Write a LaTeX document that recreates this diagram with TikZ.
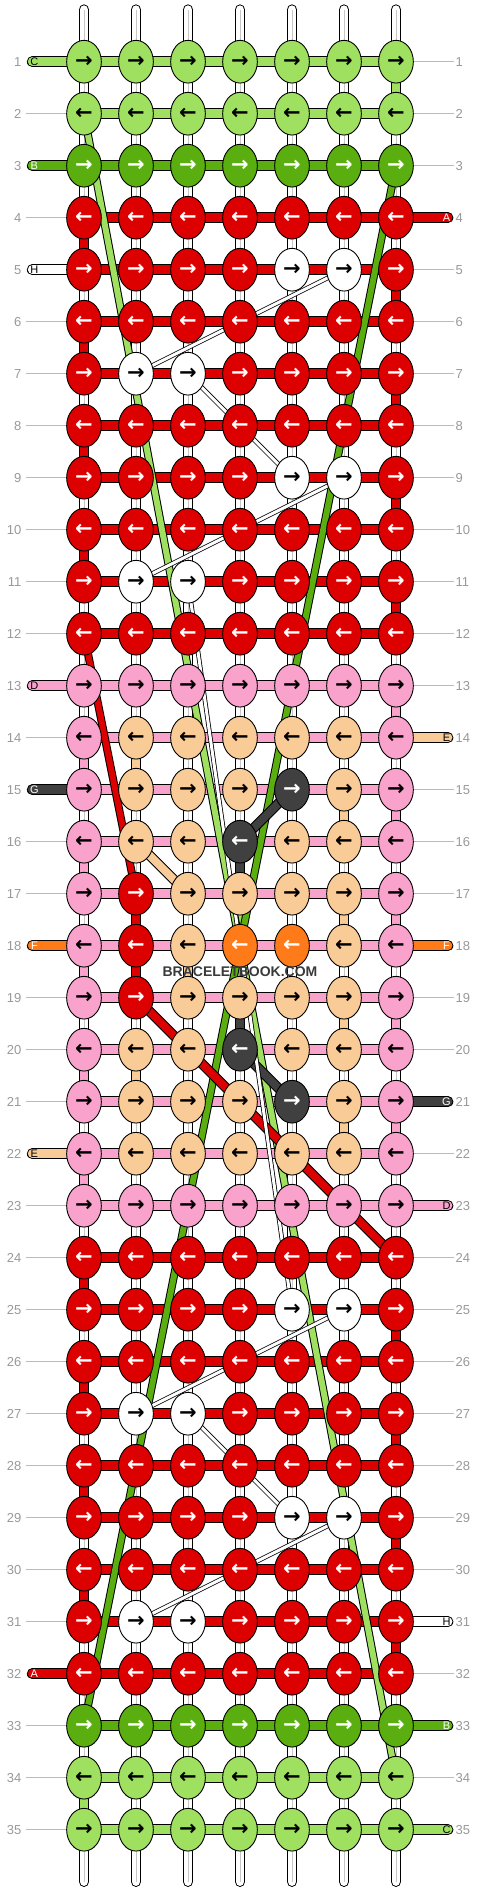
\documentclass[tikz,border=0pt]{standalone}
\usepackage{fontspec}
\setmainfont{Liberation Sans}
\newfontfamily\arrowfont{DejaVu Sans}
\usetikzlibrary{shapes.geometric}
\definecolor{cC}{HTML}{9FE060}
\definecolor{cB}{HTML}{5AAE10}
\definecolor{cA}{HTML}{DD0000}
\definecolor{cD}{HTML}{F9A2CC}
\definecolor{cE}{HTML}{F9CB97}
\definecolor{cF}{HTML}{FF7B1A}
\definecolor{cG}{HTML}{404040}
\definecolor{cH}{HTML}{FFFFFF}
\colorlet{tC}{black}\colorlet{tB}{white}\colorlet{tA}{white}\colorlet{tD}{black}
\colorlet{tE}{black}\colorlet{tF}{white}\colorlet{tG}{white}\colorlet{tH}{black}
\definecolor{lblgray}{HTML}{999999}
\definecolor{linegray}{HTML}{BBBBBB}
\definecolor{wm}{HTML}{3A3A3A}
\tikzset{
  knot/.style={ellipse, draw=black, line width=0.9pt, minimum width=34.7pt, minimum height=42.7pt, inner sep=0pt, font=\arrowfont\fontsize{21}{21}\selectfont\bfseries},
  rowlbl/.style={text=lblgray, font=\fontsize{13}{13}\selectfont, inner sep=0pt},
  extlbl/.style={font=\fontsize{11}{11}\selectfont, inner sep=0pt},
  lblline/.style={draw=linegray, line width=0.8pt},
  hb/.style={draw=#1, line width=8.7pt, preaction={draw=black, line width=10.7pt}},
  ex/.style={draw=#1, line width=8.7pt, line cap=round, preaction={draw=black, line width=10.7pt, line cap=round}},
  dg/.style={draw=#1, line width=8pt, preaction={draw=black, line width=10pt}},
  fl/.style={draw=#1, line width=6pt, preaction={draw=black, line width=8pt}},
  hf/.style={draw=white, line width=3pt, preaction={draw=black, line width=4.6pt}},
  bs/.style={draw=white, line width=8.7pt, line cap=round, preaction={draw=black, line width=10.7pt, line cap=round}},
}
\begin{document}
\begin{tikzpicture}[x=1pt,y=-1pt]
\useasboundingbox (0,0) rectangle (480,1892);
\fill[white] (0,0) rectangle (480,1892);
% coordinates and row labels
\foreach \r in {1,...,35}{
  \pgfmathsetmacro\yy{61.7+52*(\r-1)}
  \foreach \c in {1,...,7}{
    \coordinate (p-\r-\c) at ({84+52*(\c-1)},\yy);
  }
  \coordinate (ll-\r) at (26,\yy);
  \coordinate (lr-\r) at (453.5,\yy);
  \coordinate (el-\r) at (32.2,\yy);
  \coordinate (er-\r) at (448,\yy);
  \node[rowlbl,anchor=east] (nl-\r) at (21.5,\yy) {\r};
  \node[rowlbl,anchor=west] (nr-\r) at (455.5,\yy) {\r};
}
\foreach \c in {1,...,7}{
  \coordinate (t-\c) at ({84+52*(\c-1)},9.7);
  \coordinate (b-\c) at ({84+52*(\c-1)},1881.6);
}
% gray label lines
\foreach \r in {2,4,6,7,8,9,10,11,12,14,16,17,19,20,21,23,24,25,26,27,28,29,30,31,33,34,35}{
  \draw[lblline] (ll-\r) -- (p-\r-1);
}
\foreach \r in {1,2,3,5,6,7,8,9,10,11,12,13,15,16,17,19,20,22,24,25,26,27,28,29,30,32,34}{
  \draw[lblline] (p-\r-7) -- (lr-\r);
}
% base strands
\foreach \c in {1,...,7}{
  \draw[bs] (t-\c) -- (b-\c);
  \draw[draw=gray!45, line width=0.6pt] (t-\c) -- (b-\c);
}
% coloured vertical segments
\foreach \r/\c/\k in {1/7/C,34/1/C,4/1/A,5/7/A,6/1/A,7/7/A,8/1/A,9/7/A,10/1/A,11/7/A,17/2/A,18/2/A,24/1/A,25/7/A,26/1/A,27/7/A,28/1/A,29/7/A,30/1/A,31/7/A,13/7/D,14/1/D,15/7/D,16/1/D,17/7/D,18/1/D,19/7/D,20/1/D,21/7/D,22/1/D,14/2/E,15/6/E,17/6/E,18/3/E,19/6/E,20/2/E,21/6/E,16/4/G,17/4/C,18/4/C,19/4/G}{
  \pgfmathtruncatemacro\rn{\r+1}
  \draw[hb=c\k] (p-\r-\c) -- (p-\rn-\c);
}
% horizontal bars
\foreach \r in {1,2,34,35}{\draw[hb=cC] (p-\r-1) -- (p-\r-7);}
\foreach \r in {3,33}{\draw[hb=cB] (p-\r-1) -- (p-\r-7);}
\foreach \r in {4,...,12,24,25,...,32}{\draw[hb=cA] (p-\r-1) -- (p-\r-7);}
\foreach \r in {13,...,23}{\draw[hb=cD] (p-\r-1) -- (p-\r-7);}
% thread ends
\foreach \r/\k in {1/C,3/B,5/H,13/D,15/G,18/F,22/E,32/A}{
  \draw[ex=c\k] (el-\r) -- (p-\r-1);
  \node[extlbl, text=t\k] (xl-\r) at ([xshift=2.2pt]el-\r) {\k};
}
\foreach \r/\k in {4/A,14/E,18/F,21/G,23/D,31/H,33/B,35/C}{
  \draw[ex=c\k] (p-\r-7) -- (er-\r);
  \node[extlbl, text=t\k] (xr-\r) at ([xshift=-1.5pt]er-\r) {\k};
}
% floats
\draw[fl=cB] (p-3-7) -- (p-33-1);
\draw[fl=cC] (p-2-1) -- (p-34-7);
\draw[fl=cA] (p-12-1) -- (p-17-2);
\draw[dg=cA] (p-19-2) -- (p-24-7);
\draw[dg=cG] (p-15-5) -- (p-16-4);
\draw[dg=cG] (p-20-4) -- (p-21-5);
\draw[dg=cE] (p-16-2) -- (p-17-3);
\foreach \a/\b/\c/\d in {5/6/7/2,7/3/9/5,9/6/11/2,11/3/25/5,25/6/27/2,27/3/29/5,29/6/31/2}{
  \draw[hf] (p-\a-\b) -- (p-\c-\d);
}
% knots
\foreach \r/\kl in {1/{C,C,C,C,C,C,C},2/{C,C,C,C,C,C,C},3/{B,B,B,B,B,B,B},
 4/{A,A,A,A,A,A,A},5/{A,A,A,A,H,H,A},6/{A,A,A,A,A,A,A},7/{A,H,H,A,A,A,A},
 8/{A,A,A,A,A,A,A},9/{A,A,A,A,H,H,A},10/{A,A,A,A,A,A,A},11/{A,H,H,A,A,A,A},
 12/{A,A,A,A,A,A,A},13/{D,D,D,D,D,D,D},14/{D,E,E,E,E,E,D},15/{D,E,E,E,G,E,D},
 16/{D,E,E,G,E,E,D},17/{D,A,E,E,E,E,D},18/{D,A,E,F,F,E,D},19/{D,A,E,E,E,E,D},
 20/{D,E,E,G,E,E,D},21/{D,E,E,E,G,E,D},22/{D,E,E,E,E,E,D},23/{D,D,D,D,D,D,D},
 24/{A,A,A,A,A,A,A},25/{A,A,A,A,H,H,A},26/{A,A,A,A,A,A,A},27/{A,H,H,A,A,A,A},
 28/{A,A,A,A,A,A,A},29/{A,A,A,A,H,H,A},30/{A,A,A,A,A,A,A},31/{A,H,H,A,A,A,A},
 32/{A,A,A,A,A,A,A},33/{B,B,B,B,B,B,B},34/{C,C,C,C,C,C,C},35/{C,C,C,C,C,C,C}}{
  \pgfmathtruncatemacro\odd{mod(\r,2)}
  \foreach \k [count=\c] in \kl {
    \node[knot, fill=c\k, text=t\k] (k-\r-\c) at (p-\r-\c) {\ifnum\odd=1 →\else ←\fi};
  }
}
% watermark
\node[text=wm, font=\fontsize{14}{14}\selectfont\bfseries, inner sep=0pt] (wmark) at (240,971.5) {BRACELETBOOK.COM};
\end{tikzpicture}
\end{document}
